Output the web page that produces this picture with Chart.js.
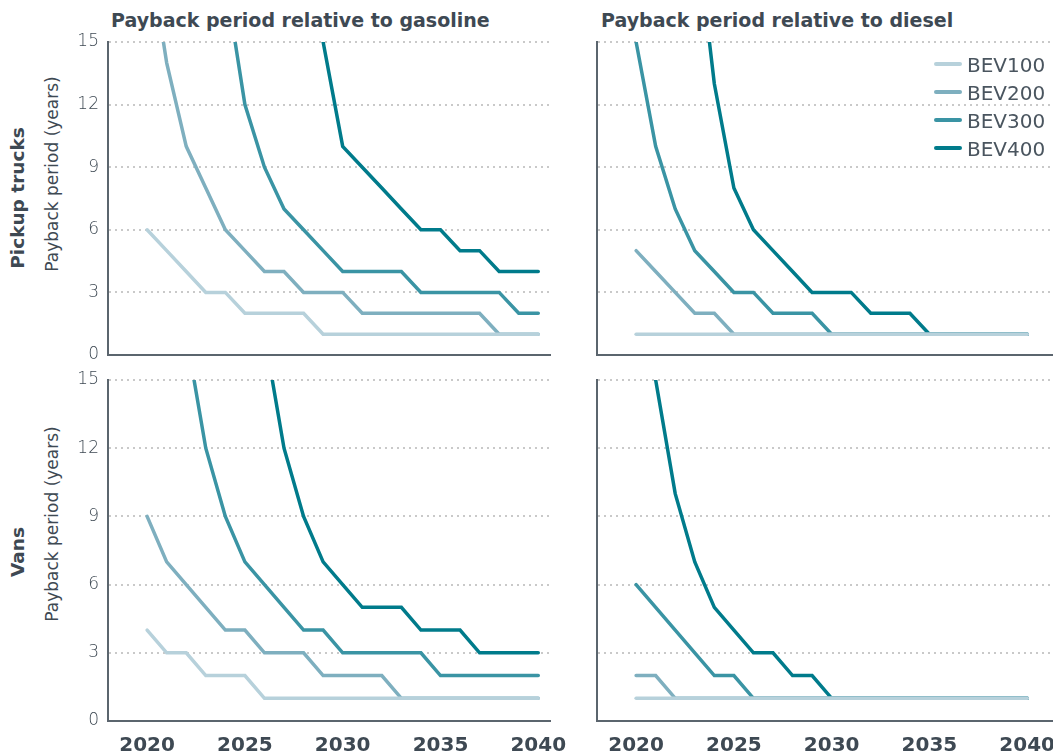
<!DOCTYPE html>
<html>
<head>
<meta charset="utf-8">
<script src="https://cdn.jsdelivr.net/npm/chart.js@4.4.1/dist/chart.umd.min.js"></script>
<style>
  html, body { margin: 0; padding: 0; background: #fff; }
  body { width: 1053px; height: 756px; position: relative; overflow: hidden;
         font-family: 'DejaVu Sans', sans-serif; color: #3e4953; }
  canvas { position: absolute; }
  .txt { position: absolute; white-space: nowrap; line-height: 1; }
  .title { font-weight: 700; font-size: 19px; }
  .rot { transform: translate(-50%, -50%) rotate(-90deg); }
  .axisTitle { font-size: 17px; font-weight: 400; }
  .rowTitle { font-size: 18.5px; font-weight: 700; }
  .legend { position: absolute; left: 934px; top: 50px; }
  .legend .row { position: absolute; left: 0; height: 28px; width: 200px; }
  .legend .swatch { position: absolute; left: 0; width: 28px; height: 4px; border-radius: 2px; }
  .legend .lbl { position: absolute; left: 33px; font-size: 20px; font-weight: 400; color: #4a555f; line-height: 1; }
</style>
</head>
<body>

<div class="txt title" style="left:111px; top:11px;">Payback period relative to gasoline</div>
<div class="txt title" style="left:601px; top:11px;">Payback period relative to diesel</div>

<div class="txt rot rowTitle" style="left:18px; top:198px;">Pickup trucks</div>
<div class="txt rot axisTitle" style="left:52px; top:174px;">Payback period (years)</div>
<div class="txt rot rowTitle" style="left:18px; top:552px;">Vans</div>
<div class="txt rot axisTitle" style="left:52px; top:524px;">Payback period (years)</div>

<canvas id="pickupGas" width="532" height="357" style="left:50px; top:20px;"></canvas>
<canvas id="pickupDiesel" width="570" height="357" style="left:540px; top:20px;"></canvas>
<canvas id="vanGas" width="532" height="398" style="left:50px; top:358px;"></canvas>
<canvas id="vanDiesel" width="570" height="398" style="left:540px; top:358px;"></canvas>

<div class="legend" id="legend"></div>

<script>
// Model years on the x axis
const years = [2020, 2021, 2022, 2023, 2024, 2025, 2026, 2027, 2028, 2029, 2030,
               2031, 2032, 2033, 2034, 2035, 2036, 2037, 2038, 2039, 2040];
const xTickYears = [2020, 2025, 2030, 2035, 2040];
const yTickStep = 3;
const yMax = 15;

const seriesNames = ['BEV100', 'BEV200', 'BEV300', 'BEV400'];
const seriesColors = ['#b7d1db', '#7eafbf', '#3a94a4', '#007b8b'];

// Payback period (years), pickup trucks vs. gasoline
const pickupGasBEV100 = [6, 5, 4, 3, 3, 2, 2, 2, 2, 1, 1, 1, 1, 1, 1, 1, 1, 1, 1, 1, 1];
const pickupGasBEV200 = [20, 14, 10, 8, 6, 5, 4, 4, 3, 3, 3, 2, 2, 2, 2, 2, 2, 2, 1, 1, 1];
const pickupGasBEV300 = [null, null, null, null, 18, 12, 9, 7, 6, 5, 4, 4, 4, 4, 3, 3, 3, 3, 3, 2, 2];
const pickupGasBEV400 = [null, null, null, null, null, null, null, null, null, 15, 10, 9, 8, 7, 6, 6, 5, 5, 4, 4, 4];

// Payback period (years), pickup trucks vs. diesel
const pickupDieselBEV100 = [1, 1, 1, 1, 1, 1, 1, 1, 1, 1, 1, 1, 1, 1, 1, 1, 1, 1, 1, 1, 1];
const pickupDieselBEV200 = [5, 4, 3, 2, 2, 1, 1, 1, 1, 1, 1, 1, 1, 1, 1, 1, 1, 1, 1, 1, 1];
const pickupDieselBEV300 = [15, 10, 7, 5, 4, 3, 3, 2, 2, 2, 1, 1, 1, 1, 1, 1, 1, 1, 1, 1, 1];
const pickupDieselBEV400 = [null, null, null, 21, 13, 8, 6, 5, 4, 3, 3, 3, 2, 2, 2, 1, 1, 1, 1, 1, 1];

// Payback period (years), vans vs. gasoline
const vanGasBEV100 = [4, 3, 3, 2, 2, 2, 1, 1, 1, 1, 1, 1, 1, 1, 1, 1, 1, 1, 1, 1, 1];
const vanGasBEV200 = [9, 7, 6, 5, 4, 4, 3, 3, 3, 2, 2, 2, 2, 1, 1, 1, 1, 1, 1, 1, 1];
const vanGasBEV300 = [null, null, 17, 12, 9, 7, 6, 5, 4, 4, 3, 3, 3, 3, 3, 2, 2, 2, 2, 2, 2];
const vanGasBEV400 = [null, null, null, null, null, null, 17, 12, 9, 7, 6, 5, 5, 5, 4, 4, 4, 3, 3, 3, 3];

// Payback period (years), vans vs. diesel
const vanDieselBEV100 = [1, 1, 1, 1, 1, 1, 1, 1, 1, 1, 1, 1, 1, 1, 1, 1, 1, 1, 1, 1, 1];
const vanDieselBEV200 = [2, 2, 1, 1, 1, 1, 1, 1, 1, 1, 1, 1, 1, 1, 1, 1, 1, 1, 1, 1, 1];
const vanDieselBEV300 = [6, 5, 4, 3, 2, 2, 1, 1, 1, 1, 1, 1, 1, 1, 1, 1, 1, 1, 1, 1, 1];
const vanDieselBEV400 = [null, 15, 10, 7, 5, 4, 3, 3, 2, 2, 1, 1, 1, 1, 1, 1, 1, 1, 1, 1, 1];

const TEXT = '#3e4953';
const AXIS = '#5b656e';
const GRID = '#c9c9c9';

function makeDatasets(seriesList) {
  return seriesList.map((vals, i) => ({
    label: seriesNames[i],
    data: years.map((y, k) => ({ x: y, y: vals[k] })),
    borderColor: seriesColors[i],
    backgroundColor: seriesColors[i],
    borderWidth: 3.5,
    pointRadius: 0,
    pointHoverRadius: 0,
    tension: 0,
    spanGaps: false,
    borderCapStyle: 'round',
    borderJoinStyle: 'miter',
    fill: false
  }));
}

function makePanel(id, seriesList, opt) {
  new Chart(document.getElementById(id), {
    type: 'line',
    data: { datasets: makeDatasets(seriesList) },
    options: {
      responsive: false,
      animation: false,
      events: [],
      layout: { padding: { top: opt.padTop, right: opt.padRight, left: 0, bottom: 0 } },
      plugins: { legend: { display: false }, tooltip: { enabled: false }, title: { display: false } },
      scales: {
        x: {
          type: 'linear',
          min: 2018,
          max: opt.xMax,
          afterBuildTicks: (scale) => { scale.ticks = xTickYears.map(v => ({ value: v })); },
          afterFit: (scale) => { scale.height = opt.xH; },
          grid: { display: false, drawTicks: false },
          border: { display: true, color: AXIS, width: 2 },
          ticks: {
            display: opt.showX,
            padding: 13,
            maxRotation: 0,
            color: TEXT,
            font: { family: 'DejaVu Sans', size: 20, weight: '700' },
            callback: (v) => String(v)
          }
        },
        y: {
          min: 0,
          max: yMax,
          afterFit: (scale) => { scale.width = opt.yW; },
          grid: {
            drawTicks: false,
            lineWidth: 2,
            color: (ctx) => (ctx.tick && ctx.tick.value === 0) ? 'rgba(0,0,0,0)' : GRID
          },
          border: { display: true, color: AXIS, width: 2, dash: [2, 4] },
          ticks: {
            display: opt.showY,
            stepSize: yTickStep,
            padding: 9,
            color: '#3e4953',
            font: { family: 'DejaVu Sans', size: 17, weight: '200' }
          }
        }
      }
    }
  });
}

const leftOpt = { padRight: 32, yW: 58, xMax: 2040.6, showY: true };
const rightOpt = { padRight: 30, yW: 57, xMax: 2042.7, showY: false };

makePanel('pickupGas',
  [pickupGasBEV100, pickupGasBEV200, pickupGasBEV300, pickupGasBEV400],
  Object.assign({}, leftOpt, { padTop: 22, xH: 22, showX: false }));
makePanel('pickupDiesel',
  [pickupDieselBEV100, pickupDieselBEV200, pickupDieselBEV300, pickupDieselBEV400],
  Object.assign({}, rightOpt, { padTop: 22, xH: 22, showX: false }));
makePanel('vanGas',
  [vanGasBEV100, vanGasBEV200, vanGasBEV300, vanGasBEV400],
  Object.assign({}, leftOpt, { padTop: 22, xH: 35, showX: true }));
makePanel('vanDiesel',
  [vanDieselBEV100, vanDieselBEV200, vanDieselBEV300, vanDieselBEV400],
  Object.assign({}, rightOpt, { padTop: 22, xH: 35, showX: true }));

// Legend for the four battery ranges
const legend = document.getElementById('legend');
seriesNames.forEach((name, i) => {
  const row = document.createElement('div');
  row.className = 'row';
  row.style.top = (i * 27.9) + 'px';
  const sw = document.createElement('div');
  sw.className = 'swatch';
  sw.style.background = seriesColors[i];
  sw.style.top = '12px';
  const lbl = document.createElement('div');
  lbl.className = 'lbl';
  lbl.style.top = '5px';
  lbl.textContent = name;
  row.appendChild(sw);
  row.appendChild(lbl);
  legend.appendChild(row);
});
</script>
</body>
</html>
